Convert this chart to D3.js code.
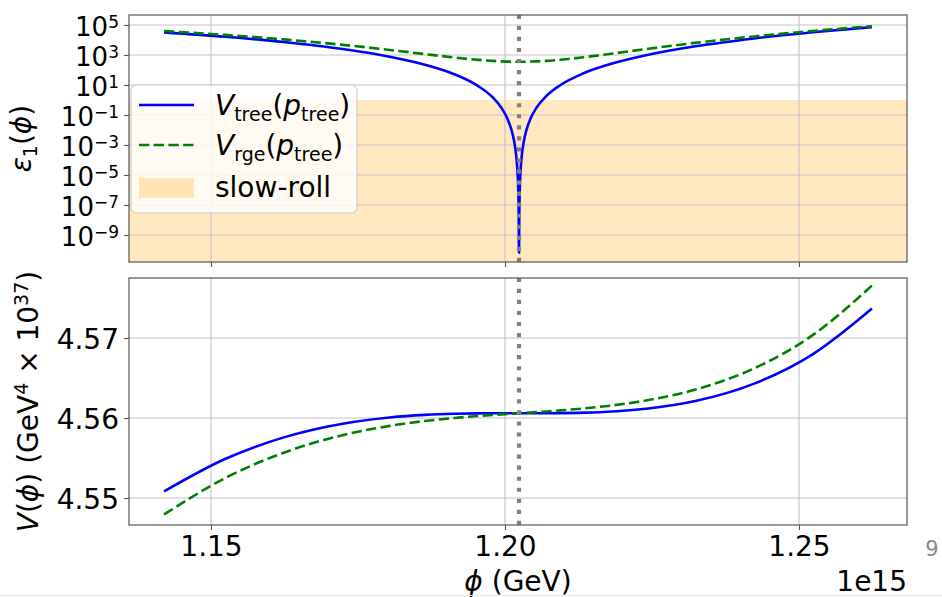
<!DOCTYPE html>
<html><head><meta charset="utf-8">
<script src="https://cdn.jsdelivr.net/npm/d3@7"></script>
<style>
html,body{margin:0;padding:0;background:#fff;}
svg{display:block;font-family:"DejaVu Sans",sans-serif;}
</style></head><body>
<svg id="chart" width="942" height="597"></svg>
<script>
// ---- data (phi in units of 1e15 GeV) ----
const phi = [1.14201, 1.15238, 1.16238, 1.17238, 1.18038, 1.18638, 1.19138, 1.19538, 1.19788, 1.19938,
  1.20038, 1.20108, 1.20158, 1.20193, 1.20213, 1.20226, 1.20233, 1.20238, 1.20243, 1.20250,
  1.20263, 1.20283, 1.20318, 1.20368, 1.20438, 1.20538, 1.20688, 1.20938, 1.21338, 1.21838,
  1.22438, 1.23238, 1.24238, 1.25238, 1.26241];
const epsTree = [32361, 16601, 7365, 2516, 772.3, 225.6, 52.22, 8.808, 1.531, 0.3054,
  0.06075, 0.0109, 1.568e-3, 1.573e-4, 1.501e-5, 7.98e-7, 2.405e-8, 6.6e-11, 2.405e-8, 7.99e-7,
  1.506e-5, 1.583e-4, 1.585e-3, 0.01109, 0.06242, 0.3181, 1.627, 9.684, 60.62, 280.3,
  1040.9, 3783, 12701, 32886, 72357];
const epsRge = [39495, 21812, 10954, 4762, 2175, 1146.8, 679.7, 475.8, 403.2, 376.2,
  364.4, 359.0, 356.6, 355.6, 355.2, 355.1, 355.1, 355.1, 355.1, 355.1,
  355.2, 355.6, 356.6, 359.1, 364.6, 376.6, 404.8, 482.0, 709.1, 1266.3,
  2611.9, 6455.8, 17304, 40075, 82850];
const vTree = [4.550823, 4.554873, 4.557582, 4.559291, 4.560072, 4.560394, 4.560532, 4.560582, 4.560595, 4.560599,
  4.5606, 4.5606, 4.5606, 4.5606, 4.5606, 4.5606, 4.5606, 4.5606, 4.5606, 4.5606,
  4.5606, 4.5606, 4.5606, 4.5606, 4.5606, 4.560601, 4.560605, 4.560618, 4.560672, 4.560824,
  4.56119, 4.562125, 4.5643, 4.567993, 4.573683];
const vRge = [4.547936, 4.552482, 4.555669, 4.557856, 4.55902, 4.559629, 4.560006, 4.560247, 4.56038, 4.560456,
  4.560504, 4.560538, 4.560562, 4.560578, 4.560588, 4.560594, 4.560598, 4.5606, 4.560602, 4.560606,
  4.560612, 4.560622, 4.560638, 4.560662, 4.560696, 4.560744, 4.56082, 4.560953, 4.561198, 4.561589,
  4.562242, 4.56356, 4.566213, 4.570384, 4.576554];
const phiMark = 1.20238;
const slowRollMax = 1;
const xTicks = [1.15, 1.20, 1.25];
const xTickLabels = ["1.15", "1.20", "1.25"];
const epsTickExp = [5, 3, 1, -1, -3, -5, -7, -9];
const vTicks = [4.55, 4.56, 4.57];
const vTickLabels = ["4.55", "4.56", "4.57"];

// ---- layout ----
const L = 129, R = 907;
const top1 = 15, bot1 = 262, top2 = 278, bot2 = 525;
const FS = 28, FSS = 19;
const svg = d3.select("#chart");

const x = d3.scaleLinear().domain([1.136054, 1.268367]).range([L, R]);
const y1 = d3.scaleLog().domain([Math.pow(10, -10.8), Math.pow(10, 5 + 10 / 15)]).range([bot1, top1]);
const y2 = d3.scaleLinear().domain([4.54663, 4.5775]).range([bot2, top2]);

const defs = svg.append("defs");
defs.append("clipPath").attr("id", "c1").append("rect").attr("x", L).attr("y", top1).attr("width", R - L).attr("height", bot1 - top1);
defs.append("clipPath").attr("id", "c2").append("rect").attr("x", L).attr("y", top2).attr("width", R - L).attr("height", bot2 - top2);

const gridColor = "#c4c4c4", spineColor = "#555555";

function panel(clipId, yScale, yTickVals, top, bot, series, band) {
  const g = svg.append("g");
  const c = g.append("g").attr("clip-path", `url(#${clipId})`);
  if (band) {
    c.append("rect").attr("x", L).attr("width", R - L)
      .attr("y", yScale(band)).attr("height", bot - yScale(band))
      .attr("fill", "orange").attr("fill-opacity", 0.25);
  }
  c.selectAll(".gx").data(xTicks).join("line")
    .attr("x1", d => x(d)).attr("x2", d => x(d)).attr("y1", top).attr("y2", bot)
    .attr("stroke", gridColor).attr("stroke-width", 1.1);
  c.selectAll(".gy").data(yTickVals).join("line")
    .attr("x1", L).attr("x2", R).attr("y1", d => yScale(d)).attr("y2", d => yScale(d))
    .attr("stroke", gridColor).attr("stroke-width", 1.1);
  series.forEach(s => {
    const line = d3.line().x((d, i) => x(phi[i])).y(d => yScale(d)).curve(d3.curveMonotoneX);
    c.append("path").attr("d", line(s.values)).attr("fill", "none")
      .attr("stroke", s.color).attr("stroke-width", 2.6)
      .attr("stroke-dasharray", s.dash || null);
  });
  c.append("line").attr("x1", x(phiMark)).attr("x2", x(phiMark)).attr("y1", bot).attr("y2", top)
    .attr("stroke", "#808080").attr("stroke-width", 4.17).attr("stroke-dasharray", "4.17 6.88");
  g.append("rect").attr("x", L).attr("y", top).attr("width", R - L).attr("height", bot - top)
    .attr("fill", "none").attr("stroke", spineColor).attr("stroke-width", 1.2);
  return g;
}

panel("c1", y1, epsTickExp.map(e => Math.pow(10, e)), top1, bot1,
  [{values: epsTree, color: "blue"}, {values: epsRge, color: "green", dash: "10.3 4.4"}], slowRollMax);
panel("c2", y2, vTicks, top2, bot2,
  [{values: vTree, color: "blue"}, {values: vRge, color: "green", dash: "10.3 4.4"}], null);

function styleAxis(sel) {
  sel.select(".domain").remove();
  sel.selectAll(".tick line").attr("stroke", spineColor).attr("stroke-width", 1.1);
}

const ax1y = svg.append("g").attr("transform", `translate(${L},0)`)
  .call(d3.axisLeft(y1).tickValues(epsTickExp.map(e => Math.pow(10, e))).tickSize(5).tickFormat(() => ""));
styleAxis(ax1y);
ax1y.selectAll(".tick").each(function (d, i) {
  const t = d3.select(this).append("text").attr("x", -10).attr("y", 10)
    .attr("text-anchor", "end").attr("fill", "#000").attr("font-size", 26)
    .attr("font-family", "DejaVu Sans");
  t.append("tspan").text("10");
  const e = epsTickExp[i];
  t.append("tspan").attr("font-size", 17).attr("dy", -7.5).text(e < 0 ? "\u2212" + Math.abs(e) : String(e));
});
const ax1x = svg.append("g").attr("transform", `translate(0,${bot1})`)
  .call(d3.axisBottom(x).tickValues(xTicks).tickSize(5).tickFormat(() => ""));
styleAxis(ax1x);

const ax2y = svg.append("g").attr("transform", `translate(${L},0)`)
  .call(d3.axisLeft(y2).tickValues(vTicks).tickSize(5).tickPadding(5).tickFormat((d, i) => vTickLabels[i]));
styleAxis(ax2y);
ax2y.selectAll(".tick text").attr("font-size", FS).attr("fill", "#000").attr("font-family", "DejaVu Sans")
  .attr("dy", null).attr("y", 10).attr("x", -10);
const ax2x = svg.append("g").attr("transform", `translate(0,${bot2})`)
  .call(d3.axisBottom(x).tickValues(xTicks).tickSize(5).tickFormat((d, i) => xTickLabels[i]));
styleAxis(ax2x);
ax2x.selectAll(".tick text").attr("font-size", FS).attr("fill", "#000").attr("font-family", "DejaVu Sans")
  .attr("dy", null).attr("y", 30.5);

const yl1 = svg.append("text").attr("transform", "translate(31,138.5) rotate(-90)")
  .attr("text-anchor", "middle").attr("font-size", FS).attr("fill", "#000");
yl1.append("tspan").attr("font-style", "italic").text("\u03b5");
yl1.append("tspan").attr("font-size", FSS).attr("dy", 6).text("1");
yl1.append("tspan").attr("dy", -6).text("(");
yl1.append("tspan").attr("font-style", "italic").text("\u03d5");
yl1.append("tspan").text(")");

const yl2 = svg.append("text").attr("transform", `translate(38,${(top2 + bot2) / 2}) rotate(-90)`)
  .attr("text-anchor", "middle").attr("font-size", FS).attr("fill", "#000");
yl2.append("tspan").attr("font-style", "italic").text("V");
yl2.append("tspan").text("(");
yl2.append("tspan").attr("font-style", "italic").text("\u03d5");
yl2.append("tspan").text(")\u00a0(GeV");
yl2.append("tspan").attr("font-size", FSS).attr("dy", -10).text("4");
yl2.append("tspan").attr("dy", 10).text("\u00a0\u00d7\u00a010");
yl2.append("tspan").attr("font-size", FSS).attr("dy", -10).text("37");
yl2.append("tspan").attr("dy", 10).text(")");

const xl = svg.append("text").attr("x", (L + R) / 2).attr("y", 591)
  .attr("text-anchor", "middle").attr("font-size", FS).attr("fill", "#000");
xl.append("tspan").attr("font-style", "italic").text("\u03d5");
xl.append("tspan").text("\u00a0(GeV)");

svg.append("text").attr("x", R).attr("y", 591).attr("text-anchor", "end")
  .attr("font-size", FS).attr("fill", "#000").text("1e15");

const lg = svg.append("g");
const lx = 131, ly = 85, lw = 226, lh = 128;
lg.append("rect").attr("x", lx).attr("y", ly).attr("width", lw).attr("height", lh)
  .attr("rx", 5.5).attr("fill", "#fff").attr("fill-opacity", 0.8)
  .attr("stroke", "#cccccc").attr("stroke-width", 1.1);
const hx1 = 139, hx2 = 194, tx = 215;
const rows = [
  {y: 105, color: "blue", dash: null, main: "V", sub: "tree"},
  {y: 145, color: "green", dash: "10.3 4.4", main: "V", sub: "rge"}
];
rows.forEach(r => {
  lg.append("line").attr("x1", hx1).attr("x2", hx2).attr("y1", r.y).attr("y2", r.y)
    .attr("stroke", r.color).attr("stroke-width", 2.6).attr("stroke-dasharray", r.dash);
  const t = lg.append("text").attr("x", tx).attr("y", r.y + 10).attr("font-size", FS).attr("fill", "#000");
  t.append("tspan").attr("font-style", "italic").text(r.main);
  t.append("tspan").attr("font-size", FSS).attr("dy", 6).text(r.sub);
  t.append("tspan").attr("dy", -6).text("(");
  t.append("tspan").attr("font-style", "italic").text("p");
  t.append("tspan").attr("font-size", FSS).attr("dy", 6).text("tree");
  t.append("tspan").attr("dy", -6).text(")");
});
lg.append("rect").attr("x", hx1).attr("y", 178).attr("width", hx2 - hx1).attr("height", 20)
  .attr("fill", "orange").attr("fill-opacity", 0.25);
lg.append("text").attr("x", tx).attr("y", 197).attr("font-size", FS).attr("fill", "#000").text("slow-roll");

svg.append("text").attr("x", 932).attr("y", 556).attr("text-anchor", "middle")
  .attr("font-size", 21).attr("fill", "#8a8a8a").text("9");
svg.append("line").attr("x1", 0).attr("x2", 942).attr("y1", 595.5).attr("y2", 595.5)
  .attr("stroke", "#e6e6e6").attr("stroke-width", 1);
</script>
</body></html>
